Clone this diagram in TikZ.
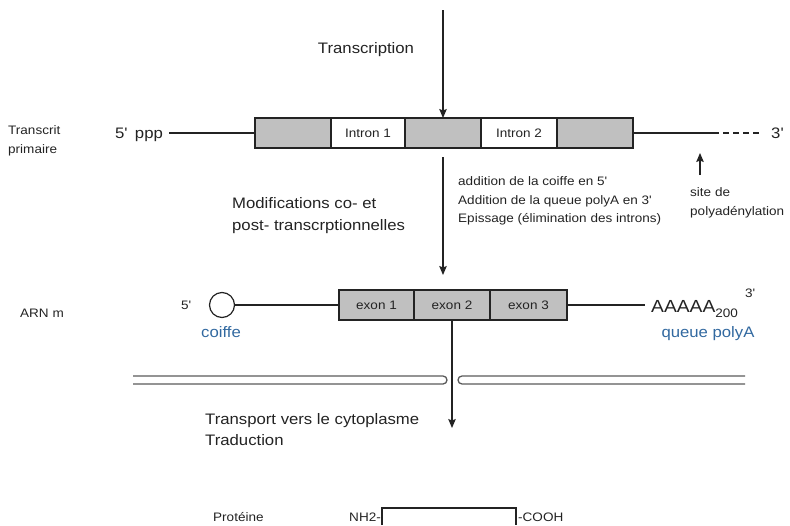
\documentclass[tikz,border=0pt]{standalone}
\usepackage{fontspec}
\setmainfont{Liberation Sans}[FakeStretch=1.1]
\usetikzlibrary{arrows.meta}
\definecolor{segfill}{RGB}{192,192,192}
\definecolor{capblue}{RGB}{50,105,160}
\definecolor{ink}{RGB}{35,35,35}
\definecolor{memb}{RGB}{90,90,90}
\newcommand{\tq}{\textquotesingle}
\begin{document}
\begin{tikzpicture}[x=1pt,y=-1pt,
  small/.style={font=\fontsize{12.3}{14}\selectfont, inner sep=0pt, text=ink, anchor=base west},
  big/.style={font=\fontsize{15.2}{18}\selectfont, inner sep=0pt, text=ink, anchor=base west},
  seg/.style={draw=ink, line width=1.2pt, minimum height=30pt, inner sep=0pt, outer sep=0pt,
    anchor=west, font=\fontsize{12.3}{14}\selectfont, text=ink},
  gseg/.style={seg, fill=segfill},
  wseg/.style={seg, fill=white},
  line/.style={draw=ink, line width=1.1pt},
  arr/.style={line, -{Stealth[length=9pt,width=7.5pt,inset=1.5pt]}},
  membrane/.style={draw=memb, line width=1.3pt},
]
\useasboundingbox (0,0) rectangle (790,525);

% ---- primary transcript ----
\node[big, anchor=base] (transcription) at (366,53) {Transcription};
\node[small] (tp1) at (8,134) {Transcrit};
\node[small] (tp2) at (8,153.5) {primaire};
\node[big] (ppp) at (115,138) {5\tq\hspace{0.5em}ppp};

\node[gseg, minimum width=76pt] (g1) at (255,133) {};
\node[wseg, minimum width=74pt] (i1) at (g1.east) {Intron 1};
\node[gseg, minimum width=76pt] (g2) at (i1.east) {};
\node[wseg, minimum width=76pt] (i2) at (g2.east) {Intron 2};
\node[gseg, minimum width=76pt] (g3) at (i2.east) {};

\coordinate (dashstart) at (713,133);
\node[big] (three) at (771,138) {3\tq};
\draw[line] ([xshift=6pt]ppp.east |- g1.west) -- (g1.west);
\draw[line] (g3.east) -- (dashstart);
\draw[line, dash pattern=on 6pt off 4pt] (dashstart) -- ([xshift=-12pt]three.west |- dashstart);

\coordinate (toptail) at (443,10);
\draw[arr] (toptail) -- (g2.north);

% polyadenylation site
\node[small] (site1) at (690,196) {site de};
\node[small] (site2) at (690,215) {polyadénylation};
\coordinate (sitetail) at (700,175);
\coordinate (sitetip) at (700,153);
\draw[arr] (sitetail) -- (sitetip);

% ---- modifications ----
\coordinate (m1) at (443,157);
\coordinate (m2) at (443,275);
\draw[arr] (m1) -- (m2);
\node[big] (mod1) at (232,208) {Modifications co- et};
\node[big] (mod2) at (232,230) {post- transcrptionnelles};
\node[small] (add1) at (458,185) {addition de la coiffe en 5\tq};
\node[small] (add2) at (458,204) {Addition de la queue polyA en 3\tq};
\node[small] (add3) at (458,222) {Epissage (élimination des introns)};

% ---- mRNA ----
\node[small] (arnm) at (20,317) {ARN m};
\node[small] (five) at (181,309) {5\tq};
\node[draw=ink, line width=1.2pt, circle, minimum size=25pt, inner sep=0pt, outer sep=0pt] (cap) at (222,305) {};
\node[gseg, minimum width=75pt] (e1) at (339,305) {exon 1};
\node[gseg, minimum width=76pt] (e2) at (e1.east) {exon 2};
\node[gseg, minimum width=77pt] (e3) at (e2.east) {exon 3};
\node[font=\fontsize{17.5}{20}\selectfont, text=ink, inner sep=0pt, anchor=base west] (polya) at (651,312) {AAAAA\raisebox{-5pt}{\fontsize{12.3}{14}\selectfont 200}};
\node[small] (three2) at (745,297) {3\tq};
\draw[line] (cap.east) -- (e1.west);
\draw[line] (e3.east) -- ([xshift=-6pt]polya.west |- e3.east);
\node[big, text=capblue, anchor=base] (coiffe) at (221,337) {coiffe};
\node[big, text=capblue, anchor=base] (queue) at (708,337) {queue polyA};

% ---- nuclear membrane ----
\draw[membrane] (133,376) -- (443,376) arc[start angle=90, end angle=-90, radius=4pt] -- (133,384);
\draw[membrane] (745,376) -- (462,376) arc[start angle=90, end angle=270, radius=4pt] -- (745,384);

\coordinate (t2) at (452,428);
\draw[arr] (e2.south) -- (t2);
\node[big] (transp) at (205,424.5) {Transport vers le cytoplasme};
\node[big] (trad) at (205,445) {Traduction};

% ---- protein ----
\node[small] (prot) at (213,521) {Protéine};
\node[inner sep=0pt, outer sep=0pt, minimum width=134pt, minimum height=17pt, anchor=north west] (pbox) at (382,508) {};
\draw[line] (pbox.south west) -- (pbox.north west) -- (pbox.north east) -- (pbox.south east);
\node[small, anchor=base east] (nh2) at ([xshift=-1pt]pbox.west |- prot.base) {NH2-};
\node[small] (cooh) at ([xshift=2pt]pbox.east |- prot.base) {-COOH};
\end{tikzpicture}
\end{document}
